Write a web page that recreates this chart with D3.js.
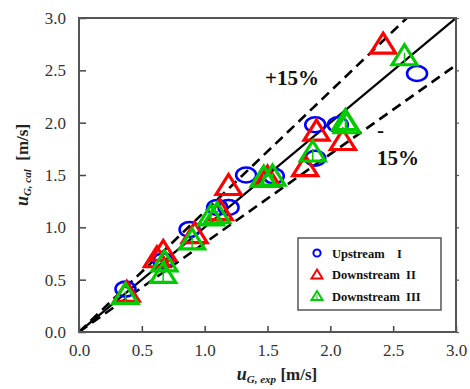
<!DOCTYPE html>
<html>
<head>
<meta charset="utf-8">
<script src="https://cdn.jsdelivr.net/npm/d3@7/dist/d3.min.js"></script>
<style>
  html, body { margin: 0; padding: 0; background: #fff; }
  svg { display: block; }
  svg text { font-family: "Liberation Serif", "Times New Roman", serif; }
</style>
</head>
<body>
<svg id="chart" width="470" height="389"></svg>
<script>
// Measured vs calculated gas velocity, three sampling positions
const upstreamI = [
  [0.37, 0.41], [0.67, 0.68], [0.88, 0.98], [1.10, 1.19], [1.19, 1.19],
  [1.33, 1.50], [1.55, 1.49], [1.88, 1.98], [1.88, 1.66], [2.06, 1.98], [2.69, 2.47]
];
const downstreamII = [
  [0.38, 0.37], [0.62, 0.70], [0.67, 0.76], [0.92, 0.93], [1.12, 1.15],
  [1.19, 1.39], [1.50, 1.47], [1.80, 1.57], [1.89, 1.91], [2.10, 1.82], [2.42, 2.74]
];
const downstreamIII = [
  [0.37, 0.35], [0.68, 0.66], [0.67, 0.55], [0.90, 0.87], [1.05, 1.10],
  [1.10, 1.12], [1.47, 1.47], [1.54, 1.48], [1.86, 1.71], [2.13, 1.98],
  [2.12, 2.01], [2.59, 2.63]
];
const tickValues = [0, 0.5, 1.0, 1.5, 2.0, 2.5, 3.0];
const bandFactors = [1.15, 0.85];

const svg = d3.select("#chart");
const plotL = 79, plotR = 456, plotT = 18, plotB = 332;
const x = d3.scaleLinear().domain([0, 3]).range([plotL, plotR]);
const y = d3.scaleLinear().domain([0, 3]).range([plotB, plotT]);
const serif = '"Liberation Serif", "Times New Roman", serif';

// clip for lines inside the frame
svg.append("clipPath").attr("id", "plotclip")
  .append("rect").attr("x", plotL).attr("y", plotT)
  .attr("width", plotR - plotL).attr("height", plotB - plotT);

const plot = svg.append("g").attr("clip-path", "url(#plotclip)");

// 1:1 line
plot.append("line")
  .attr("x1", x(0)).attr("y1", y(0)).attr("x2", x(3)).attr("y2", y(3))
  .attr("stroke", "#000").attr("stroke-width", 2.2);

// ±15 % bands
bandFactors.forEach(f => {
  const xe = Math.min(3, 3 / f);
  plot.append("line")
    .attr("x1", x(0)).attr("y1", y(0)).attr("x2", x(xe)).attr("y2", y(xe * f))
    .attr("stroke", "#000").attr("stroke-width", 2.6)
    .attr("stroke-dasharray", "10,6");
});

// axes with inward ticks
const xAxis = d3.axisBottom(x).tickValues(tickValues).tickSize(-6).tickPadding(12)
  .tickFormat(d3.format(".1f"));
const yAxis = d3.axisLeft(y).tickValues(tickValues).tickSize(-7).tickPadding(12)
  .tickFormat(d3.format(".1f"));

const gx = svg.append("g").attr("transform", `translate(0,${plotB})`).call(xAxis);
const gy = svg.append("g").attr("transform", `translate(${plotL},0)`).call(yAxis);
[gx, gy].forEach(g => {
  g.attr("font-family", null).attr("font-size", null);
  g.select(".domain").remove();
  g.selectAll(".tick line").attr("stroke", "#444").attr("stroke-width", 1.5);
  g.selectAll(".tick text").style("font-family", serif).style("font-size", "17px")
    .attr("fill", "#333");
});
gy.selectAll(".tick text").attr("dx", -1);

// right-hand tick marks
svg.append("g").attr("transform", `translate(${plotR},0)`)
  .call(d3.axisRight(y).tickValues(tickValues).tickSize(3).tickFormat(""))
  .call(g => g.select(".domain").remove())
  .call(g => g.selectAll(".tick line").attr("stroke", "#555").attr("stroke-width", 1.2));

// frame
svg.append("rect").attr("x", plotL).attr("y", plotT)
  .attr("width", plotR - plotL).attr("height", plotB - plotT)
  .attr("fill", "none").attr("stroke", "#555").attr("stroke-width", 2);

// markers
const triPath = (cx, cy, w, h) =>
  `M${cx},${cy - h * 0.6}L${cx + w / 2},${cy + h * 0.4}L${cx - w / 2},${cy + h * 0.4}Z`;

const mk = svg.append("g");
mk.selectAll(".up").data(upstreamI).join("ellipse")
  .attr("cx", d => x(d[0])).attr("cy", d => y(d[1]))
  .attr("rx", 10).attr("ry", 7.5)
  .attr("fill", "none").attr("stroke", "#0000ff").attr("stroke-width", 2.6);

mk.selectAll(".d2").data(downstreamII).join("path")
  .attr("d", d => triPath(x(d[0]), y(d[1]), 25, 20))
  .attr("fill", "none").attr("stroke", "#ff0000").attr("stroke-width", 3.2)
  .attr("stroke-linejoin", "miter");

const g3 = mk.selectAll(".d3").data(downstreamIII).join("g");
g3.append("path")
  .attr("d", d => triPath(x(d[0]), y(d[1]), 25, 20))
  .attr("fill", "none").attr("stroke", "#00cc00").attr("stroke-width", 3.2);
g3.append("line")
  .attr("x1", d => x(d[0])).attr("x2", d => x(d[0]))
  .attr("y1", d => y(d[1]) - 4).attr("y2", d => y(d[1]) + 7)
  .attr("stroke", "#00cc00").attr("stroke-width", 1.5);

// band annotations
const annot = (tx, ty, s) => svg.append("text").attr("x", tx).attr("y", ty)
  .style("font-family", serif).style("font-size", "21px").style("font-weight", "bold")
  .attr("fill", "#111").text(s);
annot(265, 85, "+15%");
annot(377, 137, "-");
annot(377, 165, "15%");

// legend
const lg = svg.append("g");
lg.append("rect").attr("x", 298).attr("y", 238).attr("width", 143).attr("height", 72)
  .attr("fill", "#fff").attr("stroke", "#555").attr("stroke-width", 1.5);
const legendItems = [
  { label: "Upstream    I", kind: "circle", color: "#0000ff" },
  { label: "Downstream  II", kind: "tri", color: "#ff0000" },
  { label: "Downstream  III", kind: "tri3", color: "#00cc00" }
];
legendItems.forEach((it, i) => {
  const cy = 253 + i * 21.5;
  if (it.kind === "circle") {
    lg.append("circle").attr("cx", 317).attr("cy", cy).attr("r", 3.6)
      .attr("fill", "none").attr("stroke", it.color).attr("stroke-width", 2);
  } else {
    lg.append("path").attr("d", triPath(317, cy + 0.5, 11, 9))
      .attr("fill", "none").attr("stroke", it.color).attr("stroke-width", 2);
    if (it.kind === "tri3") {
      lg.append("line").attr("x1", 317).attr("x2", 317).attr("y1", cy - 1).attr("y2", cy + 4)
        .attr("stroke", it.color).attr("stroke-width", 1);
    }
  }
  lg.append("text").attr("x", 332).attr("y", cy + 4.5)
    .style("font-family", serif).style("font-size", "12.5px").style("font-weight", "bold")
    .style("white-space", "pre")
    .attr("fill", "#111")
    .text(it.label);
});

// axis titles
const xt = svg.append("text").attr("x", 277).attr("y", 380).attr("text-anchor", "middle")
  .style("font-family", serif).style("font-weight", "bold").attr("fill", "#222");
xt.append("tspan").style("font-style", "italic").style("font-size", "18px").text("u");
xt.append("tspan").style("font-style", "italic").style("font-size", "11px").attr("dy", 3).text("G, exp");
xt.append("tspan").style("font-size", "17px").attr("dy", -3).style("white-space", "pre").text(" [m/s]");

const yt = svg.append("text").attr("transform", "translate(28,165) rotate(-90)")
  .attr("text-anchor", "middle")
  .style("font-family", serif).style("font-weight", "bold").attr("fill", "#222");
yt.append("tspan").style("font-style", "italic").style("font-size", "18px").text("u");
yt.append("tspan").style("font-style", "italic").style("font-size", "11px").attr("dy", 3).text("G, cal");
yt.append("tspan").style("font-size", "17px").attr("dy", -3).style("white-space", "pre").text("  [m/s]");
</script>
</body>
</html>
